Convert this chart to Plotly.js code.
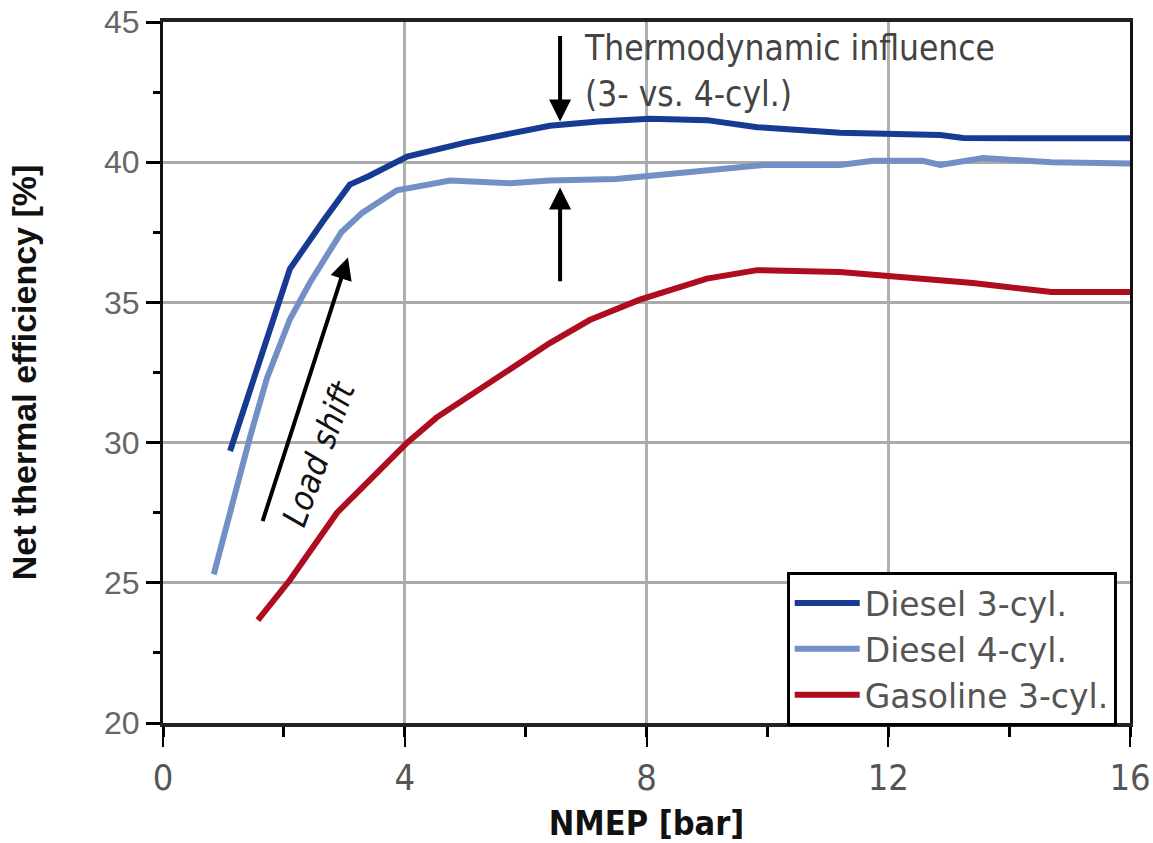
<!DOCTYPE html>
<html>
<head>
<meta charset="utf-8">
<script src="https://cdn.plot.ly/plotly-3.0.1.min.js"></script>
<style>html,body{margin:0;padding:0;background:#fff;}#chart{width:1153px;height:843px;}</style>
</head>
<body>
<div id="chart"></div>
<script>
// NMEP [bar] and net thermal efficiency [%]
var diesel3X = [1.11, 1.44, 1.82, 2.1, 2.65, 3.09, 3.4, 4.04, 5.0, 6.4, 7.2, 8.06, 9.0, 9.83, 11.2, 12.86, 13.24, 14.7, 16];
var diesel3Y = [29.7, 31.9, 34.4, 36.2, 37.9, 39.2, 39.5, 40.2, 40.7, 41.3, 41.45, 41.55, 41.5, 41.25, 41.05, 40.97, 40.86, 40.85, 40.85];

var diesel4X = [0.84, 1.11, 1.44, 1.72, 2.1, 2.43, 2.76, 2.95, 3.3, 3.87, 4.75, 5.74, 6.4, 7.5, 8.72, 9.93, 11.2, 11.75, 12.57, 12.86, 13.57, 14.7, 16];
var diesel4Y = [25.3, 27.6, 30.2, 32.3, 34.4, 35.7, 36.9, 37.5, 38.2, 39.0, 39.35, 39.25, 39.35, 39.4, 39.65, 39.9, 39.9, 40.05, 40.05, 39.9, 40.15, 40.0, 39.95];

var gasoline3X = [1.57, 2.1, 2.88, 3.5, 4.04, 4.53, 5.29, 6.4, 7.06, 7.89, 9.0, 9.83, 11.2, 12.3, 13.4, 14.7, 16];
var gasoline3Y = [23.67, 25.1, 27.5, 28.8, 30.0, 30.9, 31.98, 33.55, 34.37, 35.1, 35.85, 36.15, 36.08, 35.9, 35.69, 35.37, 35.37];

var seriesNames = ["Diesel 3-cyl.", "Diesel 4-cyl.", "Gasoline 3-cyl."];
var xTickVals = [0, 4, 8, 12, 16];
var yTickVals = [20, 25, 30, 35, 40, 45];

var NARROW = "Liberation Sans Narrow, DejaVu Sans Condensed, Arial Narrow, sans-serif";
var SANS = "Liberation Sans, Arial, sans-serif";
var WIDE = "DejaVu Sans, Verdana, sans-serif";

var traces = [
  {x: diesel3X, y: diesel3Y, name: seriesNames[0], mode: "lines", line: {color: "#173a93", width: 6}},
  {x: diesel4X, y: diesel4Y, name: seriesNames[1], mode: "lines", line: {color: "#7390c6", width: 6}},
  {x: gasoline3X, y: gasoline3Y, name: seriesNames[2], mode: "lines", line: {color: "#ae0d1f", width: 6}}
];

var layout = {
  width: 1153, height: 843,
  margin: {l: 163, r: 23, t: 22, b: 120},
  paper_bgcolor: "#ffffff", plot_bgcolor: "#ffffff",
  showlegend: true,
  legend: {
    x: 0.645, y: 0.2154, xanchor: "left", yanchor: "top",
    bgcolor: "#ffffff", bordercolor: "#000000", borderwidth: 3,
    font: {family: WIDE, size: 33, color: "#555555"},
    itemwidth: 65, tracegroupgap: 0
  },
  xaxis: {
    range: [0, 16], tickvals: xTickVals, ticktext: xTickVals.map(String),
    showgrid: true, gridcolor: "#b0b0b0", gridwidth: 3,
    showline: true, linecolor: "#222222", linewidth: 4, mirror: true,
    ticks: "outside", ticklen: 20, tickwidth: 2, tickcolor: "#000000",
    minor: {dtick: 2, ticks: "outside", ticklen: 10, tickwidth: 3, tickcolor: "#000000", showgrid: false},
    tickfont: {family: NARROW, size: 36, color: "#555555"},
    zeroline: false,
    title: {text: "NMEP [bar]", font: {family: NARROW, size: 34, color: "#111111", weight: "bold"}, standoff: 20}
  },
  yaxis: {
    range: [20, 45], tickvals: yTickVals, ticktext: yTickVals.map(String),
    showgrid: true, gridcolor: "#aaaaaa", gridwidth: 3,
    showline: true, linecolor: "#111111", linewidth: 3, mirror: true,
    ticks: "outside", ticklen: 14, tickwidth: 3, tickcolor: "#000000",
    minor: {dtick: 2.5, ticks: "outside", ticklen: 7, tickwidth: 3, tickcolor: "#000000", showgrid: false},
    tickfont: {family: SANS, size: 32, color: "#666666"},
    zeroline: false,
    title: {text: "Net thermal efficiency [%]", font: {family: SANS, size: 34, color: "#111111", weight: "bold"}, standoff: 58}
  },
  annotations: [
    {x: 6.57, y: 41.45, ax: 6.57, ay: 44.55, xref: "x", yref: "y", axref: "x", ayref: "y",
     showarrow: true, arrowhead: 2, arrowsize: 1.1, arrowwidth: 4, arrowcolor: "#000000", text: ""},
    {x: 6.57, y: 39.1, ax: 6.57, ay: 35.7, xref: "x", yref: "y", axref: "x", ayref: "y",
     showarrow: true, arrowhead: 2, arrowsize: 1.1, arrowwidth: 4, arrowcolor: "#000000", text: ""},
    {x: 3.06, y: 36.6, ax: 1.64, ay: 27.15, xref: "x", yref: "y", axref: "x", ayref: "y",
     showarrow: true, arrowhead: 2, arrowsize: 1.1, arrowwidth: 4, arrowcolor: "#000000", text: ""},
    {x: 6.93, y: 43.25, xref: "x", yref: "y", xanchor: "left", yanchor: "middle", showarrow: false, align: "left",
     text: "Thermodynamic influence<br>(3- vs. 4-cyl.)",
     font: {family: NARROW, size: 35, color: "#444444"}},
    {x: 2.57, y: 29.6, xref: "x", yref: "y", showarrow: false, textangle: -70,
     text: "<i>Load shift</i>", font: {family: NARROW, size: 34, color: "#111111"}}
  ]
};

Plotly.newPlot("chart", traces, layout, {displayModeBar: false, staticPlot: true});
</script>
</body>
</html>
